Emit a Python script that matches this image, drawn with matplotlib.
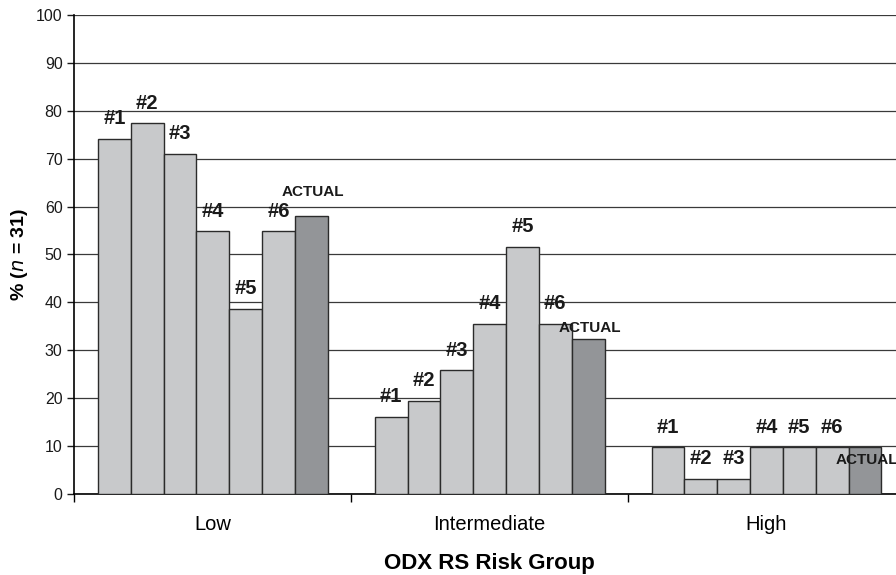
import numpy as np
import matplotlib.pyplot as plt

# ----------------------------------------------------------------
# Data (percent of n = 31 per risk group)
# ----------------------------------------------------------------
GROUPS = ["Low", "Intermediate", "High"]
SERIES = ["#1", "#2", "#3", "#4", "#5", "#6", "ACTUAL"]

LOW          = [74.2, 77.4, 71.0, 54.8, 38.7, 54.8, 58.1]
INTERMEDIATE = [16.1, 19.4, 25.8, 35.5, 51.6, 35.5, 32.3]
HIGH         = [9.7, 3.2, 3.2, 9.7, 9.7, 9.7, 9.7]

LIGHT = "#c8c9cb"
DARK  = "#939598"
EDGE  = "#2b2b2b"

plt.rcParams["font.family"] = ["Liberation Sans", "DejaVu Sans"]

fig = plt.figure(figsize=(8.96, 5.75), dpi=100)
ax = fig.add_axes([0.083, 0.141, 0.927, 0.833])

values = [LOW, INTERMEDIATE, HIGH]
n_bars = len(SERIES)
bar_w = 0.83 / n_bars

# label offsets above bar top (points); ACTUAL labels sit differently per group
actual_offset = [17, 8, -9]

for g, vals in enumerate(values):
    for i, v in enumerate(vals):
        x = g + (i - (n_bars - 1) / 2) * bar_w
        color = DARK if SERIES[i] == "ACTUAL" else LIGHT
        ax.bar(x, v, width=bar_w, color=color, edgecolor=EDGE, lw=1.0,
               zorder=3)
        if SERIES[i] == "ACTUAL":
            ax.annotate(SERIES[i], (x, v), xytext=(1, actual_offset[g]),
                        textcoords="offset points", ha="center",
                        va="center", fontsize=11, fontweight="bold",
                        color="#1a1a1a", zorder=5)
        else:
            ax.annotate(SERIES[i], (x, v), xytext=(0, 14.5),
                        textcoords="offset points", ha="center",
                        va="center", fontsize=14.5, fontweight="bold",
                        color="#1a1a1a", zorder=5)

ax.set_xlim(-0.5, len(GROUPS) - 0.5)
ax.set_ylim(0, 100)
ax.set_yticks(np.arange(0, 101, 10))
ax.tick_params(axis="y", labelsize=11.5, length=5, width=1, direction="out",
               colors="#1a1a1a")

# category ticks at boundaries, labels at centres
ax.set_xticks(np.arange(len(GROUPS) + 1) - 0.5)
ax.set_xticklabels([])
ax.set_xticks(np.arange(len(GROUPS)), minor=True)
ax.set_xticklabels(GROUPS, minor=True, fontsize=14.5)
ax.tick_params(axis="x", which="major", length=6, width=1, direction="out")
ax.tick_params(axis="x", which="minor", length=0, pad=15)

ax.yaxis.grid(True, color="#3a3a3a", lw=0.9, zorder=0)
ax.set_axisbelow(True)
for s in ["top", "right"]:
    ax.spines[s].set_visible(False)
ax.spines["left"].set_linewidth(1.2)
ax.spines["bottom"].set_linewidth(1.2)

ax.set_xlabel("ODX RS Risk Group", fontsize=16, fontweight="bold",
              labelpad=14)
ax.set_ylabel(r"% ($\bf{\it{n}}$ = 31)", fontsize=14, fontweight="bold",
              labelpad=4)

plt.savefig("out.png", dpi=100)
